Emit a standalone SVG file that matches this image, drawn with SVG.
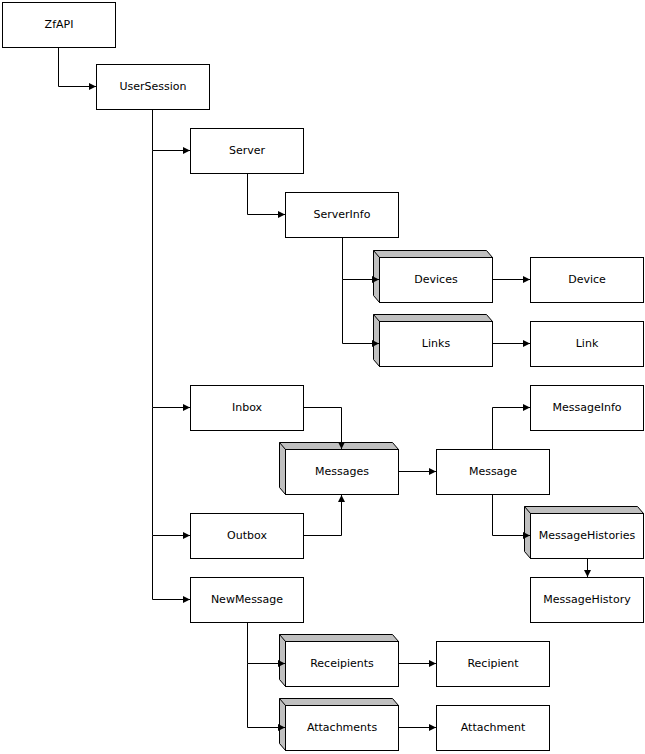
<svg xmlns="http://www.w3.org/2000/svg" width="645" height="754" viewBox="0 0 645 754">
<style>
.b{fill:#fff;stroke:#000;stroke-width:1}
.s{fill:#c0c0c0;stroke:#000;stroke-width:1}
.t{font-family:"DejaVu Sans",Verdana,sans-serif;font-size:11px;text-anchor:middle;fill:#000}
.c{fill:none;stroke:#000;stroke-width:1;marker-end:url(#a)}
</style>
<defs>
<marker id="a" markerUnits="userSpaceOnUse" markerWidth="8" markerHeight="8" refX="7" refY="3.5" orient="auto">
<path d="M0,0 L7,3.5 L0,7 Z" fill="#000"/>
</marker>
<g id="shade"><path class="s" d="M-6,-7 H107 L113,0 V45 H0 L-6,38 Z"/><path d="M-6,-7 L0,0" stroke="#000" fill="none"/></g>
</defs>
<rect width="645" height="754" fill="#fff"/>
<g id="ZfAPI"><rect class="b" x="2.5" y="2.5" width="113" height="45"/><text class="t" x="59" y="28">ZfAPI</text></g>
<g id="UserSession"><rect class="b" x="96.5" y="64.5" width="113" height="45"/><text class="t" x="153" y="90">UserSession</text></g>
<g id="Server"><rect class="b" x="190.5" y="128.5" width="113" height="45"/><text class="t" x="247" y="154">Server</text></g>
<g id="ServerInfo"><rect class="b" x="285.5" y="192.5" width="113" height="45"/><text class="t" x="342" y="218">ServerInfo</text></g>
<g id="Devices"><use href="#shade" x="379.5" y="257.5"/><rect class="b" x="379.5" y="257.5" width="113" height="45"/><text class="t" x="436" y="283">Devices</text></g>
<g id="Device"><rect class="b" x="530.5" y="257.5" width="113" height="45"/><text class="t" x="587" y="283">Device</text></g>
<g id="Links"><use href="#shade" x="379.5" y="321.5"/><rect class="b" x="379.5" y="321.5" width="113" height="45"/><text class="t" x="436" y="347">Links</text></g>
<g id="Link"><rect class="b" x="530.5" y="321.5" width="113" height="45"/><text class="t" x="587" y="347">Link</text></g>
<g id="Inbox"><rect class="b" x="190.5" y="385.5" width="113" height="45"/><text class="t" x="247" y="411">Inbox</text></g>
<g id="MessageInfo"><rect class="b" x="530.5" y="385.5" width="113" height="45"/><text class="t" x="587" y="411">MessageInfo</text></g>
<g id="Messages"><use href="#shade" x="285.5" y="449.5"/><rect class="b" x="285.5" y="449.5" width="113" height="45"/><text class="t" x="342" y="475">Messages</text></g>
<g id="Message"><rect class="b" x="436.5" y="449.5" width="113" height="45"/><text class="t" x="493" y="475">Message</text></g>
<g id="Outbox"><rect class="b" x="190.5" y="513.5" width="113" height="45"/><text class="t" x="247" y="539">Outbox</text></g>
<g id="MessageHistories"><use href="#shade" x="530.5" y="513.5"/><rect class="b" x="530.5" y="513.5" width="113" height="45"/><text class="t" x="587" y="539">MessageHistories</text></g>
<g id="NewMessage"><rect class="b" x="190.5" y="577.5" width="113" height="45"/><text class="t" x="247" y="603">NewMessage</text></g>
<g id="MessageHistory"><rect class="b" x="530.5" y="577.5" width="113" height="45"/><text class="t" x="587" y="603">MessageHistory</text></g>
<g id="Receipients"><use href="#shade" x="285.5" y="641.5"/><rect class="b" x="285.5" y="641.5" width="113" height="45"/><text class="t" x="342" y="667">Receipients</text></g>
<g id="Recipient"><rect class="b" x="436.5" y="641.5" width="113" height="45"/><text class="t" x="493" y="667">Recipient</text></g>
<g id="Attachments"><use href="#shade" x="285.5" y="705.5"/><rect class="b" x="285.5" y="705.5" width="113" height="45"/><text class="t" x="342" y="731">Attachments</text></g>
<g id="Attachment"><rect class="b" x="436.5" y="705.5" width="113" height="45"/><text class="t" x="493" y="731">Attachment</text></g>
<g id="connectors">
<path class="c" d="M58.5 47.5 V86.5 H96"/>
<path class="c" d="M152.5 109.5 V150.5 H190"/>
<path class="c" d="M152.5 150.5 V407.5 H190"/>
<path class="c" d="M152.5 407.5 V535.5 H190"/>
<path class="c" d="M152.5 535.5 V599.5 H190"/>
<path class="c" d="M247.5 173.5 V214.5 H285"/>
<path class="c" d="M342.5 237.5 V279.5 H379"/>
<path class="c" d="M342.5 279.5 V343.5 H379"/>
<path class="c" d="M492.5 279.5 H530"/>
<path class="c" d="M492.5 343.5 H530"/>
<path class="c" d="M303.5 407.5 H341.5 V449"/>
<path class="c" d="M303.5 535.5 H341.5 V495"/>
<path class="c" d="M398.5 471.5 H436"/>
<path class="c" d="M492.5 449.5 V407.5 H530"/>
<path class="c" d="M492.5 494.5 V535.5 H530"/>
<path class="c" d="M587.5 558.5 V577"/>
<path class="c" d="M247.5 622.5 V663.5 H285"/>
<path class="c" d="M247.5 663.5 V727.5 H285"/>
<path class="c" d="M398.5 663.5 H436"/>
<path class="c" d="M398.5 727.5 H436"/>
</g>
</svg>
